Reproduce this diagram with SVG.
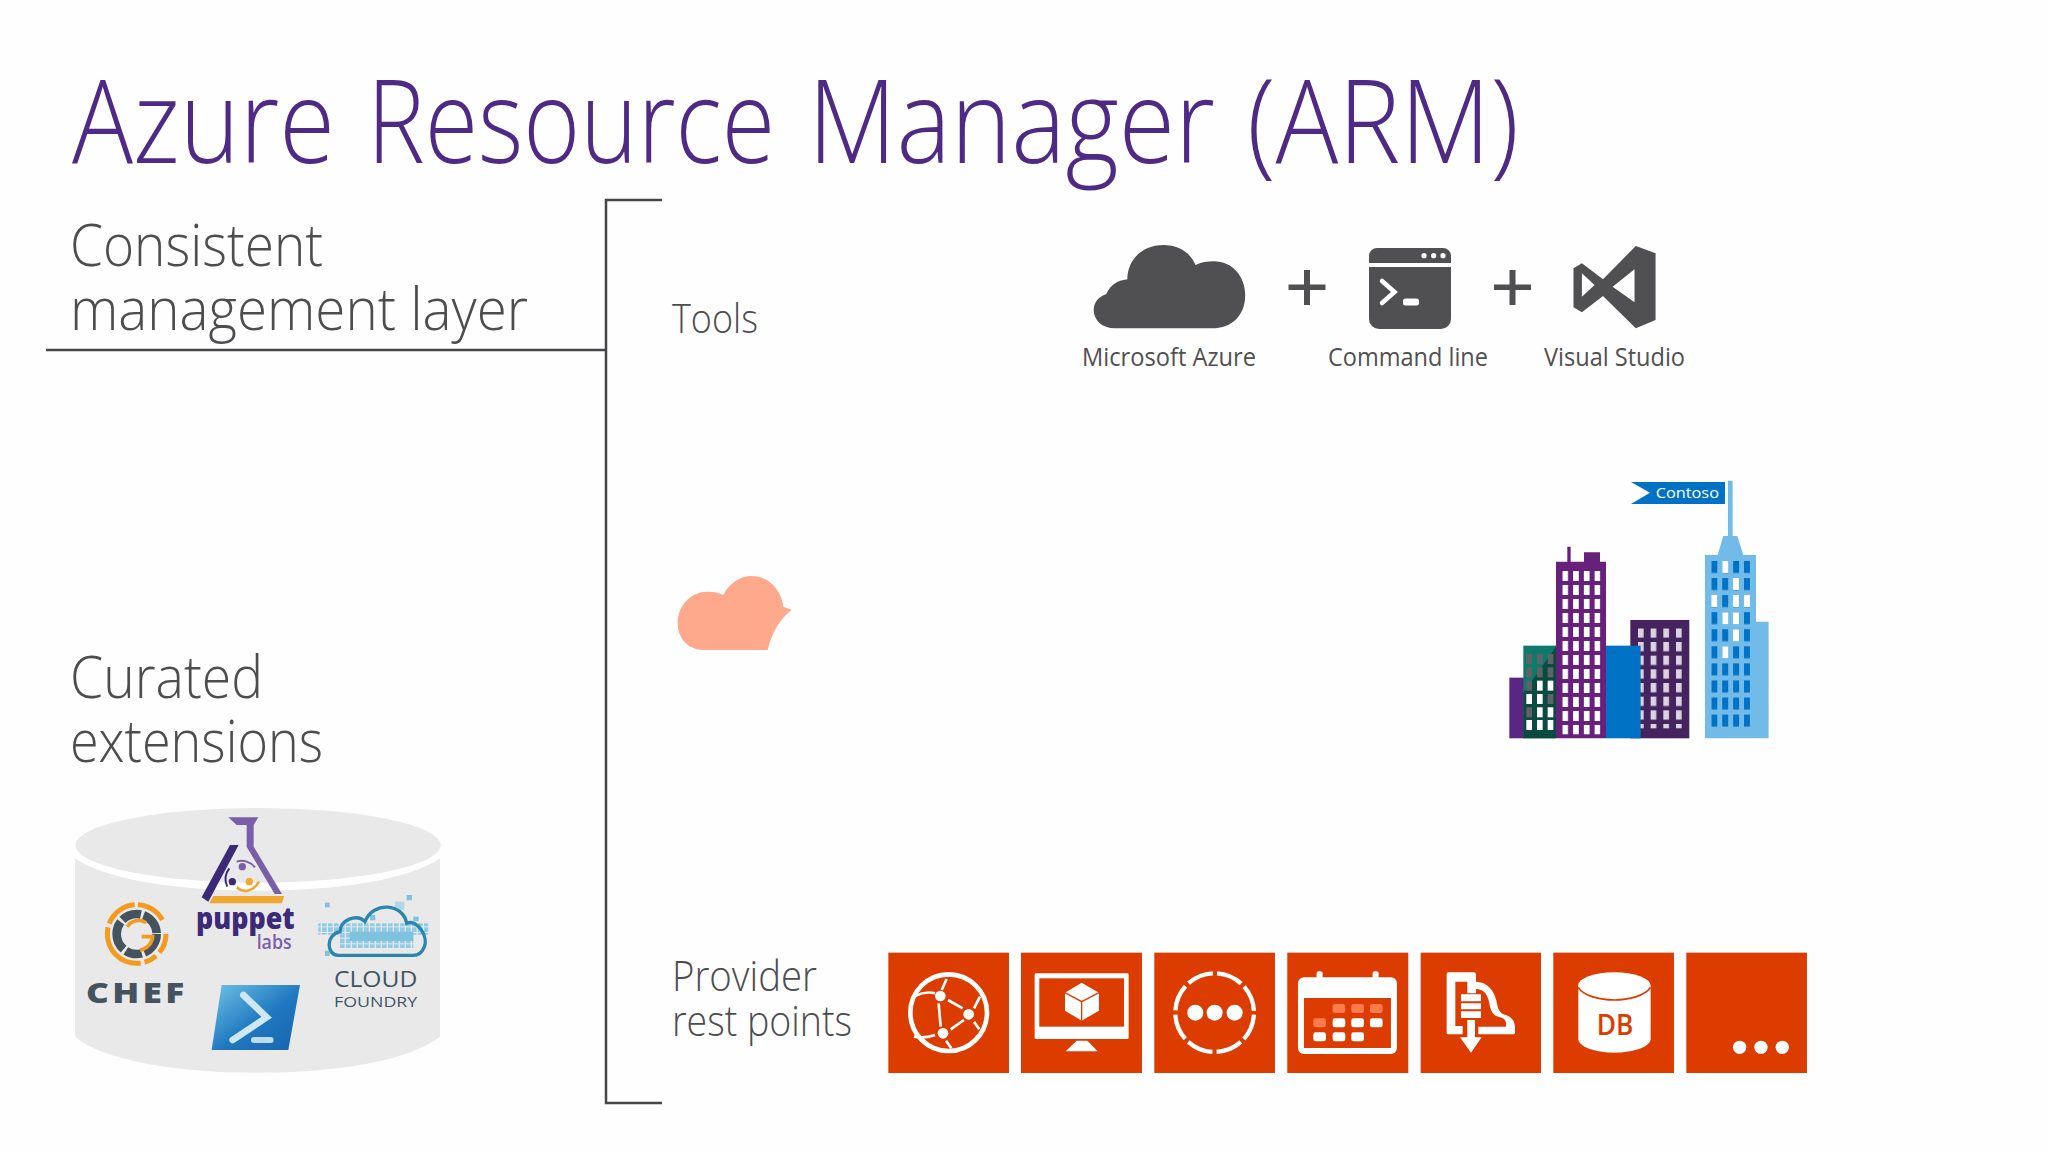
<svg xmlns="http://www.w3.org/2000/svg" width="2048" height="1152" viewBox="0 0 2048 1152">
<defs>
<style>
text{font-family:"Open Sans","Noto Sans","Liberation Sans",sans-serif}
.lt{font-weight:300;fill:#4d4d4f}
.lbl{font-weight:400;fill:#505050;font-size:25px}
.tile{fill:#dc3c00}
.w{fill:#fff}
.o{fill:#dc3c00}
.dk{fill:#505052}
.ln{fill:none;stroke:#46464a;stroke-width:2.5}
.wl{fill:none;stroke:#fff}
</style>
<pattern id="winP" patternUnits="userSpaceOnUse" x="217" y="303" width="32.3" height="42"><rect width="17" height="30" fill="#fff"/></pattern>
<pattern id="winD" patternUnits="userSpaceOnUse" x="444" y="475" width="38" height="41"><rect width="17" height="28" fill="#ddd3e0"/></pattern>
<pattern id="winB" patternUnits="userSpaceOnUse" x="664" y="273" width="32.7" height="51.2"><rect width="18" height="36" fill="#0072c6"/></pattern>
<pattern id="px" patternUnits="userSpaceOnUse" x="0" y="0" width="18" height="17"><rect width="14" height="14" fill="#8ecbe6"/></pattern>
<linearGradient id="ps" x1="0" y1="0" x2="1" y2="1"><stop offset="0" stop-color="#6fc3e6"/><stop offset=".55" stop-color="#1f78c0"/><stop offset="1" stop-color="#1764ad"/></linearGradient>
</defs>
<rect width="2048" height="1152" fill="#fefefe"/>
<text id="title" y="163" font-size="116" font-weight="300" fill="#4f2a84"><tspan x="72" textLength="263" lengthAdjust="spacingAndGlyphs">Azure</tspan> <tspan x="367" textLength="408" lengthAdjust="spacingAndGlyphs">Resource</tspan> <tspan x="808" textLength="407" lengthAdjust="spacingAndGlyphs">Manager</tspan> <tspan x="1247" textLength="272" lengthAdjust="spacingAndGlyphs">(ARM)</tspan></text>
<g id="connectors">
<path class="ln" d="M46 350H606M662 200H606V1103H662"/>
</g>
<g id="left-text" class="lt" font-size="58">
<text x="70" y="266" textLength="253" lengthAdjust="spacingAndGlyphs">Consistent</text>
<text x="70" y="330" textLength="458" lengthAdjust="spacingAndGlyphs">management layer</text>
<text x="70" y="698" textLength="193" lengthAdjust="spacingAndGlyphs">Curated</text>
<text x="70" y="762" textLength="253" lengthAdjust="spacingAndGlyphs">extensions</text>
</g>
<g id="extensions" transform="translate(40 780) scale(.3333)">
<path fill="#e9e9ea" d="M105 225V770C190 840 400 878 650 878S1110 840 1200 770V225Z"/>
<path fill="#fff" d="M105 195H1202V235C1100 300 900 332 653 332S200 300 105 235Z"/>
<ellipse cx="654" cy="196" rx="548" ry="112" fill="#e9e9ea"/>
<g id="puppet">
<path fill="#7a5ea8" d="M565 112H655L641 135V200L726 342H704L620 200V135H590Z"/>
<path fill="#3c2a78" d="M570 195H596L505 365L485 352Z"/>
<path fill="#f0a830" d="M520 348H733L725 370H508Z"/>
<circle cx="607" cy="260" r="11" fill="#7a5ea8"/><circle cx="577" cy="305" r="11" fill="#3c2a78"/><circle cx="628" cy="305" r="11" fill="#f0a830"/>
<path fill="none" stroke="#7a5ea8" stroke-width="6" d="M590 245A50 50 0 0 1 645 262"/>
<path fill="none" stroke="#3c2a78" stroke-width="6" d="M562 320A50 50 0 0 1 568 265"/>
<path fill="none" stroke="#f0a830" stroke-width="8" d="M590 322C610 340 640 335 657 305"/>
<text x="468" y="447" font-size="92" font-weight="800" fill="#3c2a78" textLength="296" lengthAdjust="spacingAndGlyphs">puppet</text>
<text x="650" y="507" font-size="60" font-weight="600" fill="#7a5ea8" textLength="105" lengthAdjust="spacingAndGlyphs">labs</text>
</g>
<g id="chef">
<circle cx="290" cy="462" r="88" fill="none" stroke="#f39a1f" stroke-width="15" stroke-dasharray="60 14 40 12 170 12 100 10 90"/>
<circle cx="290" cy="462" r="60" fill="none" stroke="#45535f" stroke-width="26" stroke-dasharray="70 8 50 8 90 8 60 8"/>
<path fill="none" stroke="#f39a1f" stroke-width="11" d="M318 428A40 40 0 0 0 262 440M300 510A44 44 0 0 0 338 470H305"/>
<text x="138" y="668" font-size="84" font-weight="800" fill="#45535f" letter-spacing="8" textLength="305" lengthAdjust="spacingAndGlyphs">CHEF</text>
</g>
<g id="powershell">
<path fill="url(#ps)" d="M545 615H780L745 810H515Z"/>
<path fill="none" stroke="#cfe8f5" stroke-width="20" stroke-linecap="round" d="M610 645L680 712L578 780"/>
<path fill="none" stroke="#bcdcee" stroke-width="18" stroke-linecap="round" d="M642 780H692"/>
</g>
<g id="cloudfoundry">
<rect x="835" y="430" width="330" height="34" fill="url(#px)"/>
<rect x="900" y="464" width="220" height="40" fill="url(#px)"/>
<g fill="#7fc2df">
<rect x="855" y="368" width="14" height="14"/><rect x="1100" y="345" width="16" height="16"/><rect x="930" y="455" width="190" height="28"/><rect x="1120" y="410" width="16" height="14"/><rect x="855" y="512" width="14" height="16"/><rect x="990" y="405" width="16" height="16"/><rect x="1065" y="365" width="28" height="24" opacity=".5"/>
</g>
<path fill="none" stroke="#2a86ad" stroke-width="10" d="M895 526C860 526 855 465 900 455C900 420 950 400 975 425C1000 362 1090 370 1100 430C1130 415 1168 470 1152 503C1145 520 1135 526 1120 526Z"/>
<text x="882" y="620" font-size="68" font-weight="500" fill="#3d5563" textLength="250" lengthAdjust="spacingAndGlyphs">CLOUD</text>
<text x="882" y="680" font-size="44" font-weight="500" fill="#3d5563" textLength="250" lengthAdjust="spacingAndGlyphs">FOUNDRY</text>
</g>
</g>
<text id="tools-label" class="lt" x="672" y="333" font-size="40" textLength="86" lengthAdjust="spacingAndGlyphs">Tools</text>
<g id="azure">
<path class="dk" transform="translate(1060 220) scale(.4209 .3333)" d="M130 325C100 325 80 300 80 270C80 245 95 228 110 222C120 195 135 182 160 178C160 120 195 75 245 75C285 75 310 100 322 135C335 127 350 124 365 124C410 124 440 170 440 225C440 285 410 325 360 325Z"/>
<text class="lbl" x="1082" y="366" textLength="174" lengthAdjust="spacingAndGlyphs">Microsoft Azure</text>
</g>
<path id="plus1" class="dk" d="M1304 270h6v14.500h15.500v5.500h-15.500v15h-6v-15h-15.500v-5.500h15.500z"/>
<g id="cmd">
<path class="dk" d="M1369 263V256A8 8 0 0 1 1377 248H1443A8 8 0 0 1 1451 256V263ZM1369 267H1451V319A10 10 0 0 1 1441 329H1379A10 10 0 0 1 1369 319Z"/>
<circle class="w" cx="1424" cy="255.700" r="2.600"/><circle class="w" cx="1433.700" cy="255.700" r="2.600"/><circle class="w" cx="1443" cy="255.700" r="2.600"/>
<path fill="none" stroke="#fff" stroke-width="4.500" stroke-linecap="round" d="M1382 281L1394.500 292L1382 303"/>
<rect class="w" x="1403" y="298.500" width="16" height="7" rx="2.500"/>
<text class="lbl" x="1328" y="366" textLength="160" lengthAdjust="spacingAndGlyphs">Command line</text>
</g>
<path id="plus2" class="dk" d="M1509.500 270h6v14.500h15.500v5.500h-15.500v15h-6v-15h-15.500v-5.500h15.500z"/>
<g id="vs">
<path class="dk" fill-rule="evenodd" transform="translate(1060 220) scale(.4209 .3333)" d="M1368 78L1415 100V300L1368 325L1290 228L1240 277L1220 262V145L1240 130L1290 178ZM1365 148L1313 200L1365 247ZM1240 160V230L1270 195Z"/>
<text class="lbl" x="1544" y="366" textLength="141" lengthAdjust="spacingAndGlyphs">Visual Studio</text>
</g>
<path id="orange-cloud" fill="#ffa98c" transform="translate(660 560) scale(.3333)" d="M130 270C80 270 53 230 53 190C53 130 100 95 140 95C165 95 180 100 190 105C210 65 245 48 275 48C330 48 365 95 370 140L395 150C360 175 335 220 323 270Z"/>
<g id="contoso" transform="translate(1490 470) scale(.3333)">
<rect x="58" y="623" width="44" height="182" fill="#5a2583"/>
<rect x="100" y="527" width="98" height="278" fill="#0e7a6c"/>
<path fill="#0b4a40" d="M100 670L198 530V805H100Z"/>
<g fill="#5f6368"><rect x="109" y="552" width="17" height="30"/><rect x="141" y="552" width="17" height="30"/><rect x="173" y="552" width="17" height="30"/><rect x="109" y="592" width="17" height="30"/><rect x="141" y="592" width="17" height="30"/><rect x="173" y="592" width="17" height="30"/><rect x="109" y="632" width="17" height="30"/><rect x="173" y="672" width="17" height="30"/><rect x="109" y="712" width="17" height="30"/></g>
<g fill="#fff"><rect x="141" y="632" width="17" height="30"/><rect x="173" y="632" width="17" height="30"/><rect x="109" y="672" width="17" height="30"/><rect x="141" y="672" width="17" height="30"/><rect x="141" y="712" width="17" height="30"/><rect x="173" y="712" width="17" height="30"/><rect x="109" y="750" width="17" height="30"/><rect x="141" y="750" width="17" height="30"/><rect x="173" y="750" width="17" height="30"/></g>
<path fill="#68217a" d="M198 275H232V230H242V275H282V247H330V275H348V805H198Z"/>
<rect x="217" y="303" width="114" height="490" fill="url(#winP)"/>
<rect x="421" y="450" width="177" height="355" fill="#44235f"/>
<rect x="444" y="475" width="132" height="300" fill="url(#winD)"/>
<rect x="348" y="527" width="104" height="278" fill="#0072c6"/>
<path fill="#72bbe9" d="M714 32H728V198H742L760 255H798V455H836V805H645V255H683L700 198H714Z"/>
<rect x="664" y="273" width="116" height="498" fill="url(#winB)"/>
<g fill="#fff"><rect x="697" y="273" width="18" height="36"/><rect x="729" y="324" width="18" height="36"/><rect x="664" y="375" width="18" height="36"/><rect x="729" y="375" width="18" height="36"/><rect x="762" y="375" width="18" height="36"/><rect x="697" y="427" width="18" height="36"/><rect x="729" y="427" width="18" height="36"/><rect x="729" y="478" width="18" height="36"/><rect x="697" y="529" width="18" height="36"/></g>
<path fill="#0072c6" d="M423 36H705V102H423L480 68Z"/>
<text x="497" y="85" font-size="45" font-weight="400" fill="#fff" textLength="190" lengthAdjust="spacingAndGlyphs">Contoso</text>
</g>
<text class="lt" x="672" y="991" font-size="42" textLength="145" lengthAdjust="spacingAndGlyphs">Provider</text>
<text class="lt" x="672" y="1036" font-size="42" textLength="180" lengthAdjust="spacingAndGlyphs">rest points</text>
<g id="tile-network" transform="translate(880 940) scale(.3333)">
<rect class="tile" x="25" y="38" width="362" height="361"/>
<circle class="wl" cx="206" cy="218" r="115" stroke-width="14"/>
<path class="wl" stroke-width="8" d="M176 190L182 260M204 180L248 205M212 268L252 240M200 117L185 150M105 168C125 158 145 155 165 160M300 170L282 205M282 245L298 268M102 290C125 295 145 292 165 285M198 302L214 325"/>
<circle class="w" cx="181" cy="168" r="16"/><circle class="w" cx="266" cy="223" r="16"/><circle class="w" cx="189" cy="280" r="16"/>
</g>
<g id="tile-vm" transform="translate(880 940) scale(.3333)">
<rect class="tile" x="423" y="38" width="363" height="361"/>
<rect class="w" x="464" y="100" width="282" height="197" rx="4"/>
<rect class="o" x="478" y="115" width="254" height="145"/>
<path class="w" d="M590 302H622L653 334H557Z"/>
<path class="w" d="M605 128L657 158V212L605 242L555 212V158Z"/>
<path fill="none" stroke="#dc3c00" stroke-width="4" d="M555 158L605 185L657 158M605 185V242"/>
</g>
<g id="tile-more" transform="translate(880 940) scale(.3333)">
<rect class="tile" x="823" y="38" width="362" height="361"/>
<circle class="wl" cx="1004" cy="218" r="118" stroke-width="13" stroke-dasharray="80 12.680" stroke-dashoffset="-6.340"/>
<circle class="w" cx="946" cy="218" r="24"/><circle class="w" cx="1004" cy="218" r="24"/><circle class="w" cx="1064" cy="218" r="24"/>
</g>
<g id="tile-calendar" transform="translate(880 940) scale(.3333)">
<rect class="tile" x="1222" y="38" width="363" height="361"/>
<rect class="w" x="1310" y="94" width="18" height="30" rx="6"/><rect class="w" x="1478" y="94" width="18" height="30" rx="6"/>
<rect class="w" x="1254" y="112" width="297" height="230" rx="18"/>
<rect class="o" x="1272" y="174" width="261" height="150"/>
<g fill="#ff7a4d"><rect x="1358" y="192" width="38" height="27" rx="7"/><rect x="1414" y="192" width="38" height="27" rx="7"/><rect x="1470" y="192" width="38" height="27" rx="7"/><rect x="1300" y="235" width="38" height="27" rx="7"/></g>
<g class="w"><rect x="1358" y="235" width="38" height="27" rx="7"/><rect x="1414" y="235" width="38" height="27" rx="7"/><rect x="1470" y="235" width="38" height="27" rx="7"/><rect x="1300" y="277" width="38" height="27" rx="7"/><rect x="1358" y="277" width="38" height="27" rx="7"/><rect x="1414" y="277" width="38" height="27" rx="7"/></g>
</g>
<g id="tile-storage" transform="translate(1380 940) scale(.3333)">
<rect class="tile" x="122" y="38" width="361" height="361"/>
<path class="w" fill-rule="evenodd" d="M205 97H283A5 5 0 0 1 288 102V125C320 125 345 150 352 195C356 212 362 222 380 226C396 232 405 245 405 262V278A5 5 0 0 1 400 283H295V260H378V250C378 240 370 234 360 232C340 228 332 215 328 190C322 160 310 148 288 147V160H262V125H226V258H248V283H205A5 5 0 0 1 200 278V102A5 5 0 0 1 205 97Z"/>
<path class="w" d="M243 163H303V184H243ZM243 190H303V208H243ZM243 214H303V234H243ZM262 240H285V292H305L273 338L240 292H262Z"/>
</g>
<g id="tile-db" transform="translate(1380 940) scale(.3333)">
<rect class="tile" x="520" y="38" width="362" height="361"/>
<path class="w" d="M595 137V297C595 320 645 338 703 338S812 320 812 297V137Z"/>
<ellipse class="w" cx="703" cy="137" rx="109" ry="40"/>
<path fill="none" stroke="#dc3c00" stroke-width="5" d="M595 142C610 168 660 180 703 180S795 168 812 142"/>
<text x="650" y="284" font-size="84" font-weight="600" fill="#dc3c00" textLength="110" lengthAdjust="spacingAndGlyphs">DB</text>
</g>
<g id="tile-etc" transform="translate(1380 940) scale(.3333)">
<rect class="tile" x="919" y="38" width="362" height="361"/>
<circle class="w" cx="1079" cy="322" r="20"/><circle class="w" cx="1143" cy="322" r="20"/><circle class="w" cx="1207" cy="322" r="20"/>
</g>
</svg>
